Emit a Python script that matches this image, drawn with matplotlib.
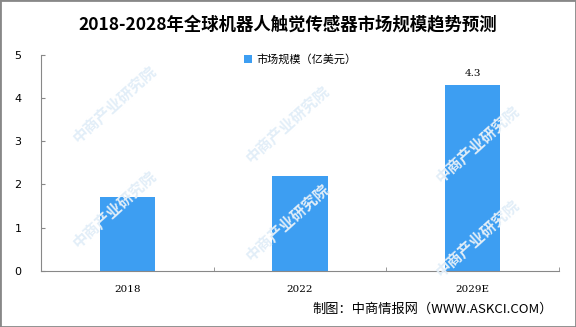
import numpy as np
import matplotlib
matplotlib.use("Agg")
import matplotlib.pyplot as plt
from matplotlib.patches import Rectangle

plt.rcParams['font.family'] = ['Noto Sans CJK SC', 'DejaVu Sans']

# Data
years = ["2018", "2022", "2029E"]
market = [1.7, 2.2, 4.3]
labeled = [False, False, True]  # only the forecast bar carries a value label

fig = plt.figure(figsize=(5.76, 3.27), dpi=100)
ax = fig.add_axes([0.0712, 0.172, 0.8993, 0.661])

# Watermarks (faint, diagonal), kept clear of the real labels
for wx, wy in [(0.20, 0.68), (0.20, 0.36), (0.50, 0.62), (0.50, 0.32),
               (0.83, 0.56), (0.83, 0.27)]:
    fig.text(wx, wy, "中商产业研究院", rotation=42, color='#e2eef8', fontsize=11,
             ha='center', va='center', zorder=0, fontweight='bold')

x = np.arange(len(years))
bars = ax.bar(x, market, width=0.32, color='#3d9ef2', label='市场规模（亿美元）', zorder=2)
for xi, v, lab in zip(x, market, labeled):
    if lab:
        ax.text(xi, v + 0.17, f"{v}", ha='center', va='bottom', fontsize=7.5,
                family='DejaVu Serif')

ax.set_xlim(-0.5, len(years) - 0.5)
ax.set_ylim(0, 5)
ax.set_yticks(range(0, 6))
ax.set_xticks(x)
ax.set_xticklabels(years, fontsize=7.5, family='DejaVu Serif')
ax.set_xticks([-0.5, 0.5, 1.5, 2.5], minor=True)
ax.tick_params(axis='x', which='major', length=0, pad=10)
ax.tick_params(axis='x', which='minor', direction='in', length=3, color='#888888')
ax.tick_params(axis='y', direction='in', length=3, color='#888888', labelsize=8, pad=14)
for lbl in ax.get_yticklabels():
    lbl.set_family('DejaVu Sans')

for s in ['top', 'right']:
    ax.spines[s].set_visible(False)
for s in ['left', 'bottom']:
    ax.spines[s].set_color('#888888')
ax.set_facecolor('none')

ax.legend(loc='upper center', bbox_to_anchor=(0.5, 1.05), frameon=False, fontsize=8,
          handlelength=0.7, handleheight=0.7, handletextpad=0.4)

fig.text(0.5, 0.925, "2018-2028年全球机器人触觉传感器市场规模趋势预测", ha='center', va='center',
         fontsize=12.5, fontweight='bold')
fig.text(0.96, 0.055, "制图：中商情报网（WWW.ASKCI.COM）", ha='right', va='center', fontsize=9.5)

# Figure border
fig.patches.append(Rectangle((0, 0), 1, 1, transform=fig.transFigure, fill=False,
                             edgecolor='#888888', linewidth=2))

fig.savefig("out.png", dpi=100)
